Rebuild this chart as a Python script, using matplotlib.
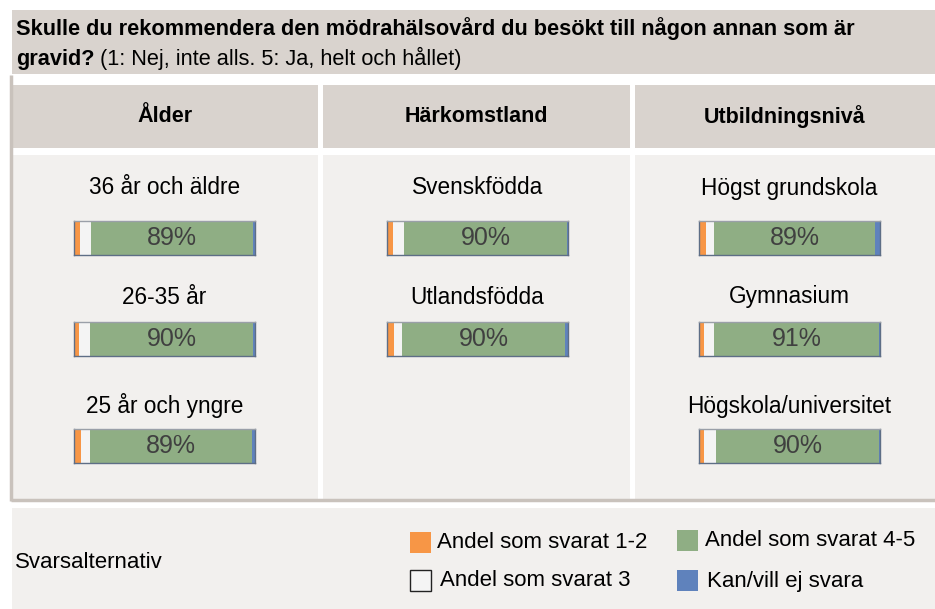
import matplotlib
matplotlib.use("Agg")
import matplotlib.pyplot as plt
from matplotlib.patches import Rectangle

plt.rcParams['font.family'] = ['Liberation Sans', 'DejaVu Sans']

# Data (percent)
groups = ["Ålder", "Härkomstland", "Utbildningsnivå"]
categories = [
    ["36 år och äldre", "26-35 år", "25 år och yngre"],
    ["Svenskfödda", "Utlandsfödda"],
    ["Högst grundskola", "Gymnasium", "Högskola/universitet"],
]
andel_1_2 = [[3.5, 3.0, 4.0], [3.3, 3.7], [4.0, 3.0, 3.0]]
andel_3 = [[6.0, 6.0, 5.0], [6.0, 4.6], [4.4, 5.5, 6.5]]
andel_4_5 = [[89, 90, 89], [90, 90], [89, 91, 90]]
kan_ej = [[1.0, 1.0, 1.5], [0.5, 1.5], [2.6, 0.7, 0.7]]

legend_labels = ["Andel som svarat 1-2", "Andel som svarat 3",
                 "Andel som svarat 4-5", "Kan/vill ej svara"]
colors = ["#F79646", "#F4F4F4", "#8FAE84", "#5F82BC"]

W, H = 935, 609
TAN = "#D9D3CE"
LIGHT = "#F2F0EE"

fig = plt.figure(figsize=(W / 100, H / 100), dpi=100)
fig.patch.set_facecolor("white")
ax = fig.add_axes([0, 0, 1, 1])
ax.set_xlim(0, W)
ax.set_ylim(H, 0)
ax.axis("off")

# title box
ax.add_patch(Rectangle((12, 10), W - 12, 64, facecolor=TAN, edgecolor="none"))
ax.text(16, 29, "Skulle du rekommendera den mödrahälsovård du besökt till någon annan som är",
        fontsize=15.7, fontweight="bold", va="center", ha="left", color="black")
t2 = ax.text(16, 59, "gravid?", fontsize=15.7, fontweight="bold", va="center", ha="left")
ax.annotate(" (1: Nej, inte alls. 5: Ja, helt och hållet)", xy=(1, 0), xycoords=t2,
            fontsize=15.7, va="bottom", ha="left")

# header and body cells
col_x = [12, 323, 635]
col_w = [306, 307, 300]
for i, g in enumerate(groups):
    ax.add_patch(Rectangle((col_x[i], 85), col_w[i], 63, facecolor=TAN, edgecolor="none"))
    ax.add_patch(Rectangle((col_x[i], 155), col_w[i], 345, facecolor=LIGHT, edgecolor="none"))
    ax.text(col_x[i] + col_w[i] / 2, 117, g, fontsize=15.5, fontweight="bold",
            ha="center", va="center")

# frame lines
ax.plot([11, 11], [75, 501], color="#C9C2BC", lw=2.5, solid_capstyle="butt")
ax.plot([11, W], [500, 500], color="#C9C2BC", lw=2.5, solid_capstyle="butt")

# legend area
ax.add_patch(Rectangle((12, 508), W - 12, H - 508, facecolor=LIGHT, edgecolor="none"))
ax.text(15, 563, "Svarsalternativ", fontsize=16, va="center", ha="left")
leg_pos = [(410, 532, 437), (410, 570, 440), (677, 530, 705), (677, 570, 707)]
for (sx, sy, tx), lab, c in zip(leg_pos, legend_labels, colors):
    ec = "#222222" if c == "#F4F4F4" else "none"
    ax.add_patch(Rectangle((sx, sy), 21, 21, facecolor=c, edgecolor=ec, lw=1))
    ax.text(tx, sy + 11, lab, fontsize=16, va="center", ha="left")

# bars
bar_left = [74, 387, 699]
bar_top = [221, 322, 429]
bar_w, bar_h = 181, 34
label_y = [188, 297, 406]
for i in range(len(groups)):
    cx = bar_left[i] + bar_w / 2
    for j, cat in enumerate(categories[i]):
        ax.text(cx, label_y[j], cat, fontsize=16.3, ha="center", va="center")
        bax = fig.add_axes([bar_left[i] / W, 1 - (bar_top[j] + bar_h) / H,
                            bar_w / W, bar_h / H])
        vals = [andel_1_2[i][j], andel_3[i][j], andel_4_5[i][j], kan_ej[i][j]]
        left = 0
        for v, c in zip(vals, colors):
            bax.barh(0, v, left=left, height=1, color=c, edgecolor="none")
            left += v
        bax.set_xlim(0, sum(vals))
        bax.set_ylim(-0.5, 0.5)
        bax.set_xticks([])
        bax.set_yticks([])
        for s in bax.spines.values():
            s.set_color("#5E6E86")
            s.set_linewidth(1)
        bax.spines["top"].set_color("#9A9FA8")
        mid = andel_1_2[i][j] + andel_3[i][j] + andel_4_5[i][j] / 2
        bax.text(mid, 0, "%d%%" % round(andel_4_5[i][j]), fontsize=18,
                 color="#404040", ha="center", va="center")

fig.savefig("out.png", dpi=100, facecolor=fig.get_facecolor())
